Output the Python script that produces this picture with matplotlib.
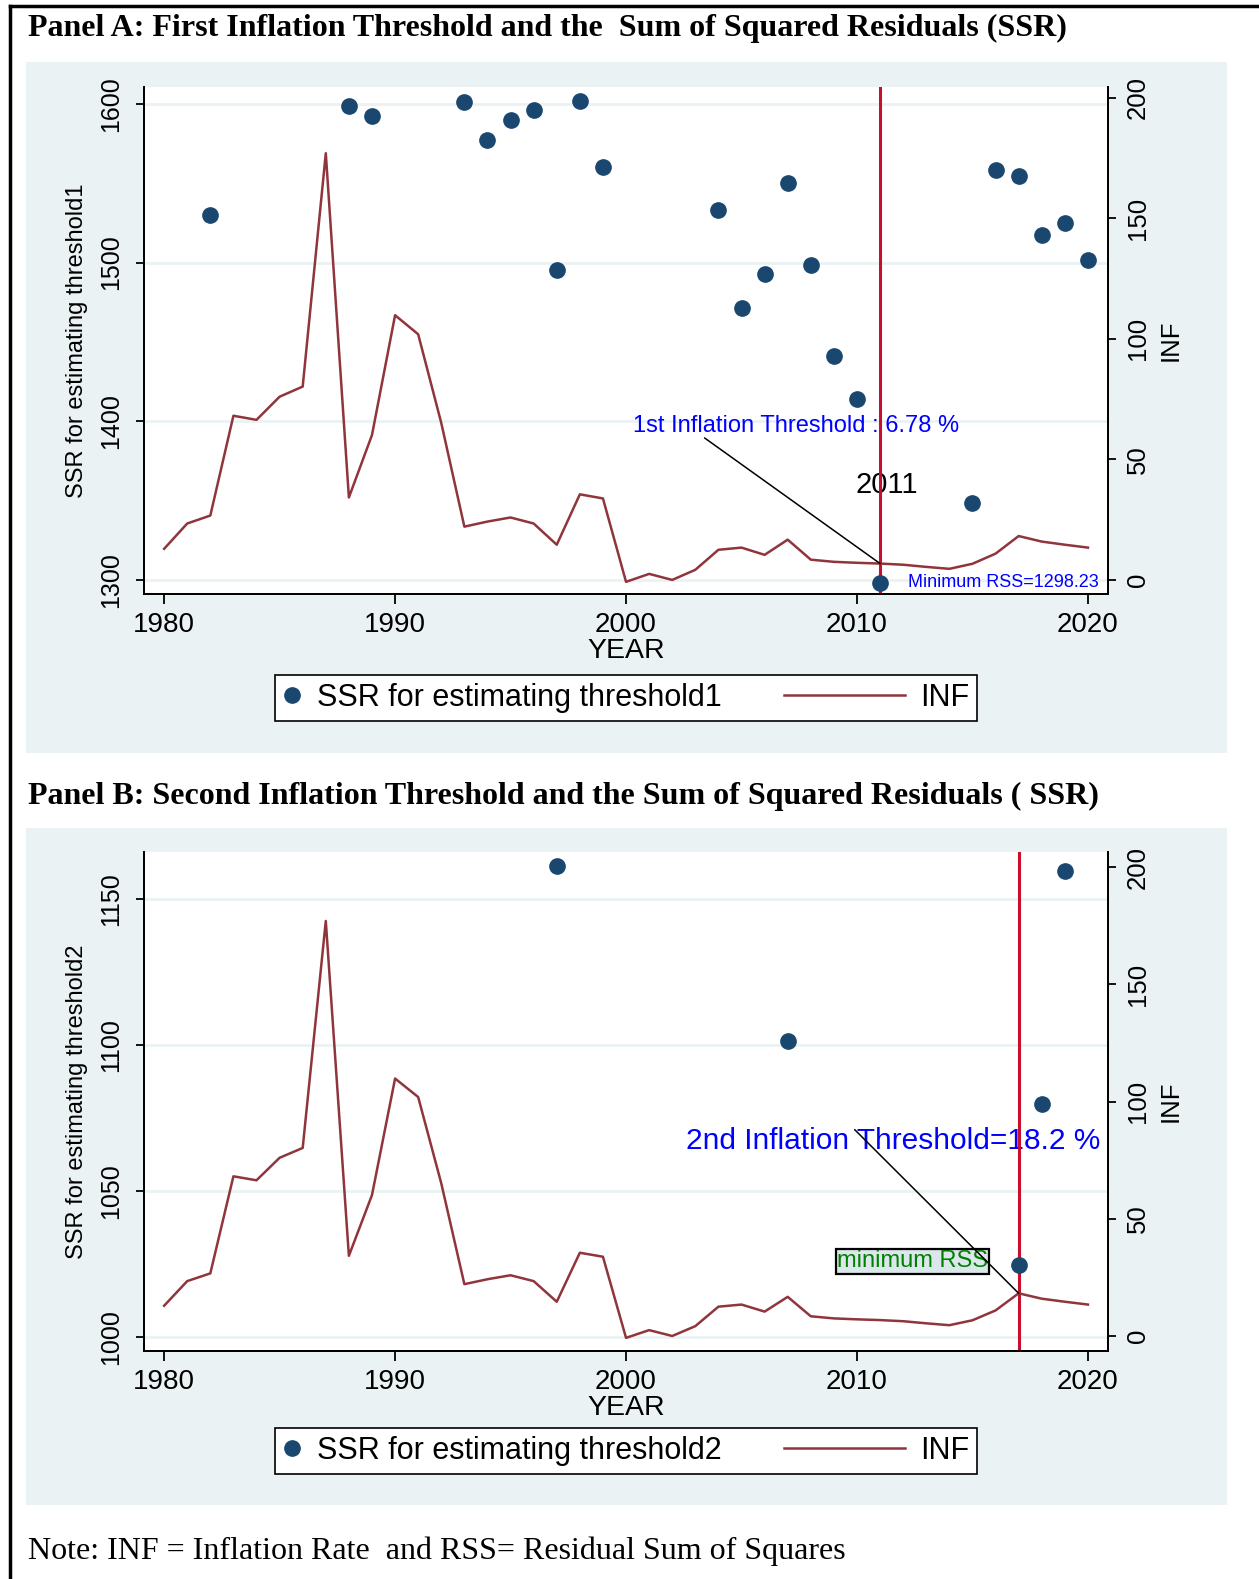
import numpy as np
import matplotlib
matplotlib.use('Agg')
import matplotlib.pyplot as plt
from matplotlib.lines import Line2D
from matplotlib.patches import Rectangle
from matplotlib.legend_handler import HandlerLine2D

plt.rcParams['font.family'] = ['Liberation Sans', 'DejaVu Sans']

########## DATA ##########

years = list(range(1980, 2021))
inf = [12.9, 23.4, 26.7, 68.1, 66.4, 76.0, 80.2, 177.0, 34.2, 60.1,
       109.8, 101.9, 65.1, 22.1, 24.2, 25.9, 23.4, 14.6, 35.5, 33.8,
       -0.8, 2.5, 0.0, 4.2, 12.5, 13.4, 10.4, 16.7, 8.4, 7.5,
       7.1, 6.78, 6.3, 5.4, 4.6, 6.7, 10.9, 18.2, 15.9, 14.6, 13.4]

ssr1_years = [1982, 1988, 1989, 1993, 1994, 1995, 1996, 1997, 1998, 1999,
              2004, 2005, 2006, 2007, 2008, 2009, 2010, 2011, 2015, 2016,
              2017, 2018, 2019, 2020]
ssr1 = [1530, 1598.7, 1592.4, 1601.3, 1577.2, 1589.8, 1596.2, 1495.3, 1601.9, 1560,
        1532.8, 1471.2, 1492.8, 1549.9, 1498.5, 1440.8, 1414.2, 1298.23, 1348.2, 1558.1,
        1554.3, 1517.5, 1525.2, 1501.7]

ssr2_years = [1997, 2007, 2017, 2018, 2019]
ssr2 = [1161.4, 1101.4, 1024.8, 1080, 1159.7]

threshold1_year, threshold1 = 2011, 6.78
threshold2_year, threshold2 = 2017, 18.2

xticks = [1980, 1990, 2000, 2010, 2020]
inf_ticks = [0, 50, 100, 150, 200]

########## STYLE ##########

NAVY = '#1A476F'
MAROON = '#90353B'
RED = '#C8102E'
BG = '#EAF2F3'
GRID = '#EAF2F3'

W, H = 1259, 1579
fig = plt.figure(figsize=(W / 100, H / 100), dpi=100)
fig.patch.set_facecolor('white')


class LongLine(HandlerLine2D):
    # line key that reaches further left than its handle box, like Stata
    def create_artists(self, legend, orig_handle, xdescent, ydescent, width, height, fontsize, trans):
        ext = width * 5.6
        return super().create_artists(legend, orig_handle, xdescent + ext, ydescent,
                                      width + ext, height, fontsize, trans)


def panel(rect, bg_rect, ssr_years, ssr, ylim, yticks, ylim2, label, thr_year):
    fig.add_artist(Rectangle((bg_rect[0], bg_rect[1]), bg_rect[2], bg_rect[3],
                             transform=fig.transFigure, facecolor=BG, edgecolor='none', zorder=0))
    ax = fig.add_axes(rect)
    ax.set_facecolor('white')
    ax2 = ax.twinx()

    ax.set_xlim(1979.13, 2020.87)
    ax.set_ylim(*ylim)
    ax2.set_ylim(*ylim2)

    # grid below everything, data on the top axes
    for t in yticks:
        ax.axhline(t, color=GRID, lw=2, zorder=0)
    ax2.axvline(thr_year, color=RED, lw=2.2, zorder=1)
    ax2.plot(years, inf, color=MAROON, lw=1.8, zorder=2)
    pts, = ax2.plot(ssr_years, ssr, 'o', color=NAVY, ms=11, mec=NAVY, zorder=3,
                    transform=ax.transData, label=label)

    ax.set_xticks(xticks)
    ax.set_yticks(yticks)
    ax2.set_yticks(inf_ticks)

    for a in (ax, ax2):
        a.spines['top'].set_visible(False)
        for s in a.spines.values():
            s.set_linewidth(1.3)
    ax.tick_params(axis='x', length=7, width=1.3, labelsize=20, pad=6)
    ax.tick_params(axis='y', length=6, width=1.3, labelsize=18, pad=9)
    ax2.tick_params(axis='y', length=6, width=1.3, labelsize=18.5, pad=7)
    for lab in ax.get_yticklabels():
        lab.set_rotation(90)
        lab.set_va('center')
    for lab in ax2.get_yticklabels():
        lab.set_rotation(90)
        lab.set_va('center')

    ax.set_xlabel('YEAR', fontsize=20.5, labelpad=0)
    ax.set_ylabel(label, fontsize=17, labelpad=8)
    ax2.set_ylabel('INF', fontsize=18.5, rotation=90, labelpad=6)

    inf_line = Line2D([], [], color=MAROON, lw=1.8, label='INF')
    return ax, ax2, pts, inf_line


def add_legend(ax, handles, y):
    leg = ax.legend(handles=handles, ncol=2, loc='center', bbox_to_anchor=(0.4972, y),
                    bbox_transform=fig.transFigure, fontsize=22, frameon=True, fancybox=False,
                    framealpha=1, edgecolor='black', handlelength=0.6, handletextpad=0.5,
                    columnspacing=5.4, borderpad=0.25, borderaxespad=0,
                    handler_map={handles[1]: LongLine()})
    leg.get_frame().set_linewidth(1.2)
    return leg


########## PANEL A ##########

axA, axA2, ptsA, lineA = panel([0.1144, 0.6238, 0.7657, 0.3213], [0.02065, 0.5231, 0.9539, 0.4374],
                               ssr1_years, ssr1, (1291.1, 1610.8), [1300, 1400, 1500, 1600],
                               (-5.85, 204.6), 'SSR for estimating threshold1', threshold1_year)
add_legend(axA, [ptsA, lineA], 0.558)

axA.text(2000.3, 1397, '1st Inflation Threshold : 6.78 %', color='blue', fontsize=17,
         va='center', ha='left')
axA2.annotate('', xy=(threshold1_year, threshold1), xytext=(2003.4, 58.9),
              arrowprops=dict(arrowstyle='-', color='black', lw=1.1, shrinkA=0, shrinkB=0))
axA.text(2011.3, 1360, '2011', color='black', fontsize=21, ha='center', va='center')
axA.text(2012.2, 1298.6, 'Minimum RSS=1298.23', color='blue', fontsize=13, ha='left', va='center')

########## PANEL B ##########

axB, axB2, ptsB, lineB = panel([0.1144, 0.1444, 0.7657, 0.3160], [0.02065, 0.0469, 0.9539, 0.4287],
                               ssr2_years, ssr2, (995.2, 1166.2), [1000, 1050, 1100, 1150],
                               (-6.4, 206.4), 'SSR for estimating threshold2', threshold2_year)
add_legend(axB, [ptsB, lineB], 0.0811)

axB.text(2002.6, 1067.2, '2nd Inflation Threshold=18.2 %', color='blue', fontsize=21.5,
         va='center', ha='left')
axB2.annotate('', xy=(threshold2_year, threshold2), xytext=(2009.9, 88),
              arrowprops=dict(arrowstyle='-', color='black', lw=1.1, shrinkA=0, shrinkB=0))
axB.text(2012.4, 1025.9, 'minimum RSS', color='green', fontsize=17, ha='center', va='center',
         bbox=dict(boxstyle='square,pad=0.05', fc='#DCE7EB', ec='black', lw=1.6))

########## TITLES / FRAME ##########

fig.text(28 / W, 1 - 28 / H, 'Panel A: First Inflation Threshold and the  Sum of Squared Residuals (SSR)',
         family='Liberation Serif', weight='bold', fontsize=23, va='center', ha='left')
fig.text(28 / W, 1 - 796 / H, 'Panel B: Second Inflation Threshold and the Sum of Squared Residuals ( SSR)',
         family='Liberation Serif', weight='bold', fontsize=23, va='center', ha='left')
fig.text(28 / W, 1 - 1551 / H, 'Note: INF = Inflation Rate  and RSS= Residual Sum of Squares',
         family='Liberation Serif', fontsize=23, va='center', ha='left')

fig.add_artist(Line2D([10 / W, 1], [1 - 6 / H, 1 - 6 / H], transform=fig.transFigure, color='black', lw=2.5))
fig.add_artist(Line2D([10 / W, 10 / W], [0, 1 - 6 / H], transform=fig.transFigure, color='black', lw=2.5))

fig.savefig('out.png', dpi=100)
